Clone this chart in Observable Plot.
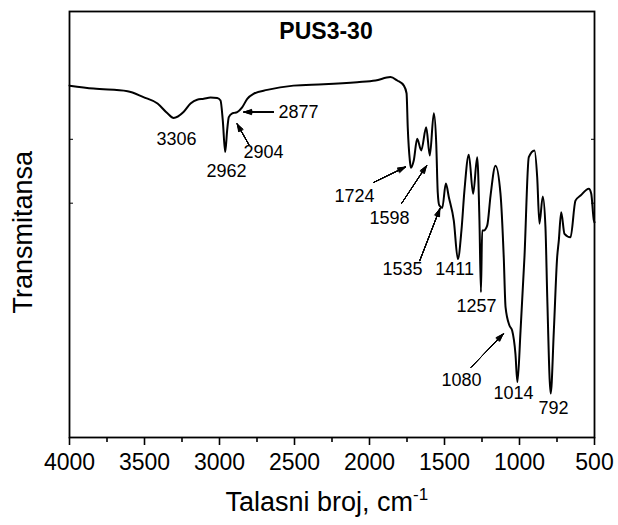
<!DOCTYPE html>
<html><head><meta charset="utf-8">
<script src="https://cdn.jsdelivr.net/npm/d3@7"></script>
<script src="https://cdn.jsdelivr.net/npm/@observablehq/plot@0.6"></script>
<style>body{margin:0;background:#fff} svg{display:block}</style>
</head><body><div id="chart"></div>
<script>
// Spectrum (wavenumber, cm-1) and transmittance (arbitrary units, 0-100)
const wavenumber = [4000,3840,3613,3507,3413,3347,3306,3240,3193,3149,3105,3060,3015,2993,2978,2962,2949,2938,2915,2904,2882,2849,2815,2771,2682,2507,2305,2082,1960,1860,1815,1771,1753,1745,1731,1724,1705,1682,1655,1622,1598,1571,1555,1545,1535,1515,1491,1471,1438,1411,1387,1367,1338,1309,1282,1267,1257,1249,1238,1215,1193,1160,1127,1105,1093,1067,1049,1027,1014,993,967,938,900,882,867,845,827,815,792,771,749,738,722,700,660,627,593,538,522,505,500];
const transmittance = [82.6,81.9,81.3,79.9,78.4,76.1,75.0,76.4,78.4,79.3,79.5,79.8,79.7,79.1,74.4,67.0,72.1,75.2,76.1,76.2,76.4,77.5,79.5,80.7,81.6,82.6,82.9,83.4,83.8,84.6,83.8,82.6,80.8,72.8,65.0,63.3,65.0,70.1,67.4,72.8,66.2,76.1,68.9,57.5,54.5,53.9,59.6,56.4,50.9,41.9,48.6,58.0,66.4,57.2,65.8,50.9,34.1,48.6,48.6,49.8,56.8,63.8,57.3,42.3,30.6,26.3,25.1,19.6,13.0,25.1,42.3,65.8,67.4,61.1,50.2,56.6,49.4,32.9,10.3,25.1,42.3,46.2,52.9,47.8,47.0,55.6,56.8,58.4,57.3,51.1,50.5];

// Peak labels
const labelText = ["3306","2962","2904","2877","1724","1598","1535","1411","1257","1080","1014","792"];
const labelWn   = [3287,2953,2707,2473,2100,1867,1780,1433,1287,1387,1040,773];
const labelT    = [70.0,62.4,66.9,76.4,56.6,51.4,39.4,39.4,30.8,13.4,10.3,6.8];

// Arrows (from -> to)
const arrowWn1 = [2640,2805,1971,1787,1665,1322];
const arrowT1  = [76.4,68.8,59.9,54.9,41.5,16.5];
const arrowWn2 = [2837,2882,1760,1620,1531,1109];
const arrowT2  = [76.4,73.6,63.5,63.8,53.7,24.3];

// Axis ticks
const majorTicks = [4000,3500,3000,2500,2000,1500,1000,500];
const minorTicks = [3750,3250,2750,2250,1750,1250,750];
const yTicks = [55,70];

const titleText = "PUS3-30";
const xTitle = "Talasni broj, cm";
const xTitleSup = "-1";
const yTitle = "Transmitansa";

const spectrum = wavenumber.map((w,i)=>({w, t: transmittance[i]}));
const labels = labelText.map((s,i)=>({s, w: labelWn[i], t: labelT[i]}));
const arrows = arrowWn1.map((w,i)=>({w1: w, t1: arrowT1[i], w2: arrowWn2[i], t2: arrowT2[i]}));

const font = "Liberation Sans, Arial, sans-serif";
const arrowMarks = [38,30,22,14,6,0].map(a => Plot.arrow(arrows, {
  x1:"w1", y1:"t1", x2:"w2", y2:"t2", stroke:"#000", strokeWidth:1, headLength:12, headAngle:a
}));

const chart = Plot.plot({
  width: 618, height: 525,
  marginTop: 11, marginBottom: 88, marginLeft: 69, marginRight: 24,
  style: {fontFamily: font, background: "#fff", color: "#000", overflow: "visible"},
  x: {domain: [4000, 500], axis: null},
  y: {domain: [0, 100], axis: null},
  marks: [
    Plot.axisX({ticks: majorTicks, tickSize: 8, tickPadding: 8, fontSize: 23, strokeWidth: 1.6, label: null, tickFormat: "d"}),
    Plot.axisX({ticks: minorTicks, tickSize: 5, text: null, label: null, strokeWidth: 1.6}),
    Plot.axisY({anchor: "left", ticks: yTicks, tickSize: -4, text: null, label: null, strokeWidth: 1}),
    Plot.axisY({anchor: "right", ticks: yTicks, tickSize: -4, text: null, label: null, strokeWidth: 1}),
    Plot.frame({stroke: "#000", strokeWidth: 1.8}),
    Plot.line(spectrum, {x: "w", y: "t", curve: "monotone-x", stroke: "#000", strokeWidth: 2}),
    ...arrowMarks,
    Plot.text(labels, {x: "w", y: "t", text: "s", fontSize: 18, fill: "#000", textAnchor: "middle", lineAnchor: "middle"}),
    Plot.text([titleText], {frameAnchor: "top", text: d => d, dy: 20, dx: -6, fontSize: 23, fontWeight: "bold", fill: "#000", lineAnchor: "middle"}),
    Plot.text([xTitle], {frameAnchor: "bottom-left", text: d => d, dx: 156, dy: 65, fontSize: 27, fill: "#000", textAnchor: "start", lineAnchor: "middle", className: "xtitle"}),
    Plot.text([yTitle], {frameAnchor: "left", text: d => d, dx: -46.5, dy: 7.7, rotate: -90, fontSize: 27, fill: "#000", textAnchor: "middle", lineAnchor: "middle"})
  ]
});
document.getElementById("chart").appendChild(chart);
d3.select(chart).selectAll(".xtitle text").append("tspan").attr("dy", "-11").attr("font-size", "17").text(xTitleSup);
</script>
</body></html>
